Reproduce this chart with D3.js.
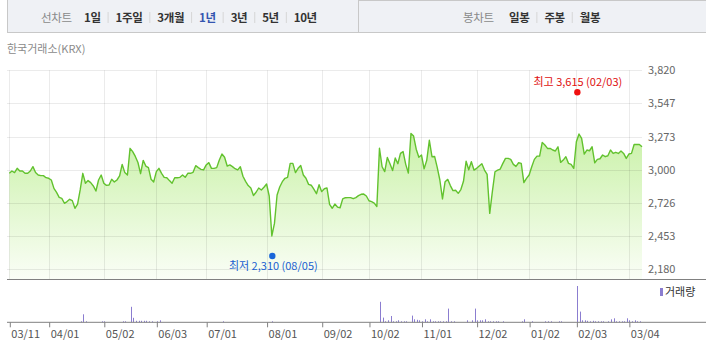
<!DOCTYPE html>
<html>
<head>
<meta charset="utf-8">
<script src="https://cdn.jsdelivr.net/npm/d3@7"></script>
<style>
  body { margin: 0; background: #fff; }
  text { font-family: "Noto Sans CJK KR", "Noto Sans", sans-serif; }
</style>
</head>
<body>
<div id="chart"></div>
<script>
// x axis: trading-day index of each tick and its label
const tickIdx = [0, 15, 36, 56, 75, 98, 119, 137, 157, 178, 198, 216, 236];
const tickLabels = ["03/11", "04/01", "05/02", "06/03", "07/01", "08/01", "09/02",
  "10/02", "11/01", "12/02", "01/02", "02/03", "03/04"];
const yTicks = [2180, 2453, 2726, 3000, 3273, 3547, 3820];

// daily close, one value per trading day (242 days)
const prices = [
  2971, 2990, 2977, 3012, 2990, 2990, 2971, 2971, 2990, 3026,
  2977, 2957, 2952, 2952, 2935, 2930, 2916, 2847, 2814, 2773,
  2765, 2724, 2738, 2757, 2746, 2683, 2718, 2834, 2971, 2889,
  2911, 2894, 2867, 2825, 2916, 2957, 2889, 2872, 2875, 2922,
  2900, 2916, 2949, 3045, 2977, 2957, 3177, 3150, 3110, 3060,
  2968, 3078, 3031, 3018, 2922, 2900, 2985, 3012, 2971, 2938,
  2935, 2911, 2889, 2935, 2935, 2938, 2957, 2938, 2971, 2971,
  2979, 3034, 3018, 3004, 2999, 3040, 3059, 3012, 3012, 3018,
  3081, 3130, 3103, 3031, 3040, 3026, 3009, 2999, 3025, 2947,
  2905, 2870, 2850, 2788, 2815, 2850, 2834, 2856, 2883, 2784,
  2455, 2558, 2792, 2858, 2902, 2930, 2938, 3053, 3053, 2977,
  3012, 3035, 2957, 2930, 2880, 2873, 2840, 2803, 2877, 2820,
  2844, 2851, 2715, 2683, 2718, 2693, 2687, 2760, 2770, 2771,
  2771, 2762, 2771, 2787, 2798, 2800, 2784, 2745, 2737, 2725,
  2698, 3177, 3025, 2985, 3102, 3050, 2994, 3097, 3050, 3135,
  3150, 3045, 2973, 3300, 3278, 3170, 3104, 3122, 3008, 3078,
  3243, 3108, 3110, 3020, 2916, 2760, 2902, 2921, 2870, 2828,
  2831, 2806, 2837, 2905, 3070, 3000, 3067, 2998, 3012, 3031,
  3050, 2998, 2962, 2641, 2820, 2984, 2998, 3006, 3053, 3094,
  3094, 3086, 3045, 3028, 3058, 3053, 2894, 2929, 2957, 3025,
  3086, 3113, 3113, 3226, 3204, 3176, 3176, 3163, 3155, 3190,
  3061, 3080, 3108, 3053, 3045, 3012, 3231, 3295, 3259, 3130,
  3163, 3157, 3190, 3058, 3086, 3091, 3122, 3108, 3116, 3163,
  3135, 3144, 3135, 3155, 3135, 3094, 3130, 3135, 3209, 3209,
  3209, 3190
];

// daily volume, same days
const volumes = [
  0, 0, 0, 0, 0, 0, 0, 0, 0, 0, 0, 0, 0, 0, 0, 0, 0, 0, 0, 0,
  0, 0, 0, 0, 0, 0, 0, 10, 80, 10, 0, 0, 0, 0, 0, 10, 10, 0, 0, 0,
  0, 0, 0, 10, 10, 0, 155, 45, 15, 15, 15, 15, 15, 10, 10, 0, 10, 20, 0, 0,
  0, 0, 0, 0, 0, 0, 0, 0, 0, 0, 0, 0, 0, 0, 0, 0, 0, 0, 0, 0,
  0, 10, 0, 0, 0, 0, 0, 0, 0, 0, 0, 0, 0, 0, 0, 0, 0, 0, 0, 0,
  10, 0, 0, 0, 0, 0, 0, 0, 0, 0, 0, 0, 0, 0, 0, 0, 0, 0, 0, 0,
  0, 0, 0, 0, 0, 0, 0, 0, 0, 0, 0, 0, 0, 0, 0, 0, 0, 0, 0, 0,
  0, 205, 47, 10, 20, 63, 10, 10, 20, 10, 10, 10, 0, 67, 30, 25, 20, 10, 30, 10,
  30, 10, 10, 10, 10, 10, 10, 137, 10, 10, 0, 0, 0, 0, 20, 0, 20, 137, 20, 20,
  20, 30, 10, 10, 10, 10, 10, 0, 10, 0, 0, 0, 0, 0, 0, 10, 30, 0, 0, 10,
  0, 0, 0, 0, 10, 10, 10, 0, 0, 10, 10, 0, 0, 0, 0, 0, 363, 107, 20, 20,
  15, 10, 15, 10, 10, 10, 10, 0, 10, 30, 40, 10, 10, 10, 10, 40, 20, 10, 20, 10,
  10, 0
];

const lineTabs = ["1일", "1주일", "3개월", "1년", "3년", "5년", "10년"];
const candleTabs = ["일봉", "주봉", "월봉"];
const activeTab = "1년";
const high = { idx: 216, value: 3615, label: "최고 3,615 (02/03)" };
const low = { idx: 100, value: 2310, label: "최저 2,310 (08/05)" };

const W = 706, H = 363;
const plot = { left: 9.3, right: 642, top: 70.3, bottom: 279 };
const volBase = 322.3;

const svg = d3.select("#chart").append("svg")
  .attr("width", W).attr("height", H);

// ---- tab bar
svg.append("rect").attr("x", 7.5).attr("y", -1).attr("width", 351).attr("height", 33.5)
  .attr("fill", "#eff1f5").attr("stroke", "#c8c8c8");
svg.append("rect").attr("x", 358.5).attr("y", 0.5).attr("width", 360).attr("height", 32)
  .attr("fill", "#eff1f5").attr("stroke", "#c8c8c8");

function tabRow(title, items, startX, firstX) {
  svg.append("text").attr("x", startX).attr("y", 17.5).attr("dy", "0.35em")
    .attr("font-size", 11.5).attr("letter-spacing", -0.3)
    .attr("fill", "#8a8a8a").text(title);
  let x = firstX;
  items.forEach((t, i) => {
    if (i > 0) {
      svg.append("line").attr("x1", x + 0.5).attr("x2", x + 0.5)
        .attr("y1", 12).attr("y2", 23).attr("stroke", "#d6d6d6");
      x += 8;
    }
    const el = svg.append("text").attr("x", x).attr("y", 17.5).attr("dy", "0.35em")
      .attr("font-size", 11.5).attr("letter-spacing", -0.4).attr("font-weight", "bold")
      .attr("fill", t === activeTab ? "#3455b0" : "#333").text(t);
    x += el.node().getComputedTextLength() + 7;
  });
}
tabRow("선차트", lineTabs, 41, 84);
tabRow("봉차트", candleTabs, 463, 509);

svg.append("text").attr("x", 7).attr("y", 49).attr("dy", "0.35em")
  .attr("font-size", 11).attr("fill", "#8a8a8a").text("한국거래소(KRX)");

// ---- scales
const x = d3.scaleLinear().domain([0, prices.length - 1]).range([plot.left, plot.right]);
const y = d3.scaleLinear().domain([yTicks[0], yTicks[yTicks.length - 1]])
  .range([269.3, plot.top]);
const yv = d3.scaleLinear().domain([0, 400]).range([volBase, volBase - 40]);

// ---- area fill
const grad = svg.append("defs").append("linearGradient").attr("id", "fillGrad")
  .attr("gradientUnits", "userSpaceOnUse")
  .attr("x1", 0).attr("x2", 0).attr("y1", 130).attr("y2", plot.bottom);
grad.append("stop").attr("offset", 0).attr("stop-color", "#c9f1a7");
grad.append("stop").attr("offset", 1).attr("stop-color", "#fafef6");

svg.append("path").datum(prices)
  .attr("d", d3.area().x((d, i) => x(i)).y0(plot.bottom).y1(d => y(d)))
  .attr("fill", "url(#fillGrad)");

// ---- grid
svg.append("g").selectAll("line").data(yTicks).join("line")
  .attr("x1", 7).attr("x2", plot.right)
  .attr("y1", d => Math.round(y(d)) + 0.5).attr("y2", d => Math.round(y(d)) + 0.5)
  .attr("stroke", "#000").attr("stroke-opacity", 0.08);
svg.append("g").selectAll("line").data(tickIdx).join("line")
  .attr("x1", d => Math.round(x(d)) + 0.5).attr("x2", d => Math.round(x(d)) + 0.5)
  .attr("y1", plot.top).attr("y2", plot.bottom)
  .attr("stroke", "#000").attr("stroke-opacity", 0.08);

// y labels
svg.append("g").selectAll("text").data(yTicks).join("text")
  .attr("x", 648).attr("y", d => y(d)).attr("dy", "0.35em")
  .attr("font-size", 11).attr("fill", "#666")
  .text(d => d3.format(",")(d));

// ---- price line
svg.append("path").datum(prices)
  .attr("d", d3.line().x((d, i) => x(i)).y(d => y(d)))
  .attr("fill", "none").attr("stroke", "#62c22e").attr("stroke-width", 1.4)
  .attr("stroke-linejoin", "round");

// axis line under the price panel
svg.append("line").attr("x1", 7).attr("x2", W).attr("y1", plot.bottom + 0.5).attr("y2", plot.bottom + 0.5)
  .attr("stroke", "#808080");

// ---- high / low markers
svg.append("circle").attr("cx", x(high.idx) + 1).attr("cy", y(high.value) - 3).attr("r", 3.2)
  .attr("fill", "#f01010");
svg.append("text").attr("x", x(high.idx) + 1.5).attr("y", y(high.value) - 13).attr("dy", "0.35em")
  .attr("text-anchor", "middle").attr("font-size", 11).attr("fill", "#e01010").text(high.label);
svg.append("circle").attr("cx", x(low.idx) + 0.5).attr("cy", y(low.value) + 2.5).attr("r", 3.2)
  .attr("fill", "#1a66d9");
svg.append("text").attr("x", x(low.idx) + 1.5).attr("y", y(low.value) + 13).attr("dy", "0.35em")
  .attr("text-anchor", "middle").attr("font-size", 11).attr("fill", "#1a5fd0").text(low.label);

// ---- volume bars
svg.append("g").selectAll("rect").data(volumes).join("rect")
  .attr("x", (d, i) => Math.round(x(i) + 0.6))
  .attr("y", d => yv(d))
  .attr("width", 1)
  .attr("height", d => volBase - yv(d))
  .attr("fill", "#8b7dd0");

// volume axis with ticks and labels
const xAxis = d3.axisBottom(x).tickValues(tickIdx)
  .tickFormat((d, i) => tickLabels[i]).tickSize(5).tickSizeOuter(0);
const ax = svg.append("g").attr("transform", `translate(0,${volBase})`).call(xAxis);
ax.select(".domain").remove();
ax.selectAll(".tick line").attr("stroke", "#808080")
  .attr("transform", "translate(0.5,0)");
ax.selectAll(".tick text").attr("text-anchor", "start").attr("x", 1.5).attr("y", 8)
  .attr("dy", "0.71em").attr("font-size", 11).attr("fill", "#555")
  .attr("font-family", null);
svg.append("line").attr("x1", 7).attr("x2", W).attr("y1", volBase).attr("y2", volBase)
  .attr("stroke", "#808080");

// legend
svg.append("rect").attr("x", 660).attr("y", 288).attr("width", 3).attr("height", 8)
  .attr("fill", "#8b7dd0");
svg.append("text").attr("x", 665).attr("y", 292.3).attr("dy", "0.35em")
  .attr("font-size", 11).attr("fill", "#333").text("거래량");
</script>
</body>
</html>
